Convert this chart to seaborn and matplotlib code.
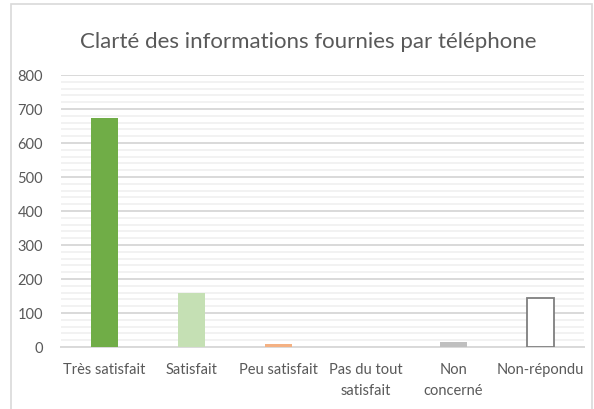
import matplotlib
matplotlib.use("Agg")
import matplotlib.pyplot as plt
import seaborn as sns
import pandas as pd
from matplotlib.patches import Rectangle
from matplotlib.ticker import MultipleLocator

categories = ["Très satisfait", "Satisfait", "Peu satisfait", "Pas du tout\nsatisfait",
              "Non\nconcerné", "Non-répondu"]
values = [673, 158, 8, 0, 15, 144]
colors = ["#70AD47", "#C5E0B4", "#F4B183", "#D9D9D9", "#BFBFBF", "#FFFFFF"]
title = "Clarté des informations fournies par téléphone"

df = pd.DataFrame({"cat": categories, "val": values})

sns.set_style("white")
plt.rcParams["font.family"] = ["Lato", "DejaVu Sans"]

fig = plt.figure(figsize=(5.94, 4.10), dpi=100)
ax = fig.add_axes([61 / 594, 62 / 410, 523 / 594, 272 / 410])

sns.barplot(data=df, x="cat", y="val", hue="cat", palette=colors, legend=False,
            width=0.31, saturation=1, linewidth=0, ax=ax, zorder=3)

# last bar: outlined only
last = ax.patches[-1]
last.set_facecolor("white")
last.set_edgecolor("#7F7F7F")
last.set_linewidth(1.3)

ax.set_ylim(0, 800)
ax.set_xlim(-0.5, 5.5)
ax.yaxis.set_major_locator(MultipleLocator(100))
ax.yaxis.set_minor_locator(MultipleLocator(20))
ax.grid(which="minor", axis="y", color="#F2F2F2", linewidth=1.4, zorder=0)
ax.grid(which="major", axis="y", color="#D9D9D9", linewidth=1.4, zorder=1)
ax.set_axisbelow(True)

for s in ["top", "right", "left"]:
    ax.spines[s].set_visible(False)
ax.spines["bottom"].set_color("#D9D9D9")
ax.spines["bottom"].set_linewidth(1.4)

ax.tick_params(axis="both", which="both", length=0, colors="#595959", labelsize=10.5)
ax.tick_params(axis="y", pad=13)
ax.tick_params(axis="x", pad=11)
for lbl in ax.get_xticklabels():
    lbl.set_linespacing(1.6)
ax.set_xlabel("")
ax.set_ylabel("")

fig.text(308 / 594, 1 - 42 / 410, title, ha="center", va="center",
         fontsize=16, color="#595959")

fig.patches.append(Rectangle((11 / 594, -0.05), 581 / 594, 1.05 - 5 / 410,
                             transform=fig.transFigure, fill=False,
                             edgecolor="#D9D9D9", linewidth=1.2))

fig.savefig("out.png", dpi=100, facecolor="white")
